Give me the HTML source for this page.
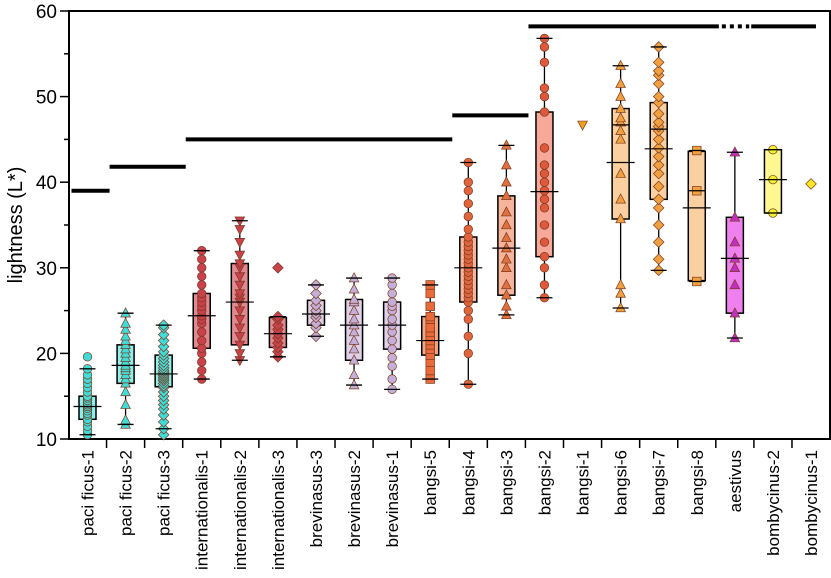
<!DOCTYPE html>
<html><head><meta charset="utf-8"><style>
body{margin:0;background:#fff;}
svg{display:block;font-family:"Liberation Sans",Arial,sans-serif;}
</style></head><body>
<svg id="chart" width="831" height="578"></svg>
<script>
const categories=["paci ficus-1","paci ficus-2","paci ficus-3","internationalis-1","internationalis-2","internationalis-3","brevinasus-3","brevinasus-2","brevinasus-1","bangsi-5","bangsi-4","bangsi-3","bangsi-2","bangsi-1","bangsi-6","bangsi-7","bangsi-8","aestivus","bombycinus-2","bombycinus-1"];
const whiskLo=[10.5,11.7,11.2,17,19.2,19.6,22,16.3,15.8,17,16.4,24.5,26.5,null,25.3,29.7,28.4,21.8,36.4,null];
const q1=[12.3,16.5,16.1,20.6,21,20.7,23.3,19.2,20.5,19.8,26,26.8,31.3,null,35.7,38,28.5,24.7,36.4,null];
const medians=[13.8,18.6,17.6,24.4,26,22.3,24.6,23.3,23.3,21.5,30,32.3,38.9,null,42.3,43.9,37,31.1,40.3,null];
const q3=[15,21,19.8,27,30.5,24.2,26.2,26.3,26,24.3,33.6,38.4,48.2,null,48.6,49.3,43.6,35.9,43.8,null];
const whiskHi=[18.2,24.7,23.3,32,35.5,24.3,28,28.8,28.8,28,42.3,44.3,56.8,null,53.6,55.8,43.7,43.5,43.8,null];
const means=[null,null,null,null,null,null,null,null,null,null,null,null,null,null,46.7,46.2,39,null,null,null];
const points=[
[10.5,11,11.5,12,12.3,12.8,13,13.3,13.6,13.8,14,14.2,14.5,14.8,15,15.5,16,16.5,17,17.5,18.2,19.6],
[11.7,12.2,14,15.5,16.5,17,17.5,18,18.3,18.6,19,19.5,20,20.5,21,21.5,22,22.8,23.5,24.7],
[10.5,11.2,12,12.8,13.5,14,14.5,15,15.5,16,16.2,16.5,16.8,17,17.2,17.4,17.6,17.8,18,18.3,18.6,19,19.4,19.8,20.2,20.8,21.5,22.2,23,23.3],
[17,18,19,20,20.6,21.5,22.5,23.5,24,24.4,25,25.5,26,26.5,27,28,29,30,31,32],
[19.2,20,21,22,23,24,25,26,26.5,27,28,29,30,30.5,31.5,33,34.5,35.5],
[19.6,20.2,20.7,21.2,21.8,22.3,22.8,23.3,24,24.3,30],
[22,23,23.5,24.2,24.6,25,25.6,26.2,27,28],
[16.3,17.5,19.2,20.5,21.5,22.5,23.3,24,25,26,26.3,27.5,28.8],
[15.8,17,18.5,19.5,20.5,21.5,22.5,23.3,24,25,25.5,26,27,28,28.8],
[17,18,19,19.8,20.5,21,21.5,22,22.5,23,24,24.3,25.5,27,28],
[16.4,20,22,24,25,26,26.5,27,27.5,28,28.5,29,29.5,30,30.5,31,31.5,32,32.5,33,33.6,34.5,36,37.5,39,40,42.3],
[24.5,25.5,26.8,28,30,31,32.3,33.5,35,36.5,38.4,40,42,44.3],
[26.5,28,30,31.3,33,35,37,38,39,40,41,42,44,48.2,50,51,54,55.8,56.8],
[46.7],
[25.3,27,28,35.7,38,41,45,46,47,47.5,48.6,50,51.5,53.6],
[29.7,31,33,35,37,38,39.5,41,42,43,44,45,46,46.5,47,48,49.3,50,51.5,52.5,53,54,55.8],
[28.4,39,43.7],
[21.8,24.7,28,30,31.1,33,35.9,43.5],
[36.4,40.3,43.8],
[39.8]];
const shapes=["circle","up","diamond","circle","down","diamond","diamond","up","circle","square","circle","up","circle","down","up","diamond","square","up","circle","diamond"];
const markColors=["#40dcd8","#40dcd8","#40dcd8","#c8414b","#c8414b","#c8414b","#c4afd8","#c4afd8","#c4afd8","#ea6a3c","#e0643c","#e0703e","#e0583c","#f0a020","#f0a040","#f0a040","#f0a040","#c030c0","#f4f030","#f8e820"];
const boxColors=["#8cf0ec","#8cf0ec","#8cf0ec","#e08a90","#e08a90","#e08a90","#ddd0e8","#ddd0e8","#ddd0e8","#f4a47e","#f6b49a","#f6b49a","#f8a898","#fbd0a0","#fbd0a0","#fbd0a0","#fbd0a0","#f080f0","#fff890","#fff890"];
const yTicks=[10,20,30,40,50,60];
const sigBars=[[0,1,39],[1,3,41.8],[3,10,45],[10,12,47.8],[12,17.0,58.2],[17.85,19.55,58.2]];

const svg=document.getElementById('chart');
const NS="http://www.w3.org/2000/svg";
const X0=69,X1=830,Y0=11,Y1=439;
function y(v){return Y1-(v-10)*(Y1-Y0)/50;}
function x(i){return 87.5+i*38.08;}
function mk(t,a,p){const e=document.createElementNS(NS,t);for(const k in a)e.setAttribute(k,a[k]);(p||svg).appendChild(e);return e;}

let fr=mk('rect',{x:X0,y:Y0,width:X1-X0,height:Y1-Y0,fill:'none',stroke:'#000','stroke-width':2});


for(let v=10;v<=60;v+=5){
  const len=(v%10===0)?9:5;
  mk('line',{x1:X0-len,x2:X0,y1:y(v),y2:y(v),stroke:'#000','stroke-width':1.5});
}
yTicks.forEach(v=>{
  const t=mk('text',{x:X0-12,y:y(v)+7,'text-anchor':'end','font-size':19});
  t.textContent=v;
  
  
});
const yt=mk('text',{x:0,y:0,transform:'translate(22,225) rotate(-90)','text-anchor':'middle','font-size':20});
yt.textContent='lightness (L*)';



for(let i=1;i<categories.length;i++){
  const bx=x(i)-19.04;
  mk('line',{x1:bx,x2:bx,y1:Y1,y2:Y1+9,stroke:'#000','stroke-width':1.5});
}
categories.forEach((c,i)=>{
  const t=mk('text',{x:0,y:0,transform:`translate(${x(i)+6},450) rotate(-90)`,'text-anchor':'end','font-size':17});
  t.textContent=c;
  
  
});

sigBars.forEach(b=>{
  const l=mk('line',{x1:x(b[0])-16,x2:x(b[1])-16,y1:y(b[2]),y2:y(b[2]),stroke:'#000','stroke-width':4});
  
  
});
const dl=mk('line',{x1:x(17.0)-13,x2:x(17.85)-18,y1:y(58.2),y2:y(58.2),stroke:'#000','stroke-width':4,'stroke-dasharray':'4 4'});



function marker(g,shape,cx,cy,col){
  const r=4.3;let e;
  const st={fill:col,stroke:'#7a3a20','stroke-width':0.7};
  if(shape==='circle') e=mk('circle',Object.assign({cx,cy,r},st),g);
  else if(shape==='square') e=mk('rect',Object.assign({x:cx-r,y:cy-r,width:2*r,height:2*r},st),g);
  else if(shape==='diamond') e=mk('polygon',Object.assign({points:`${cx},${cy-r-1} ${cx+r+1},${cy} ${cx},${cy+r+1} ${cx-r-1},${cy}`},st),g);
  else if(shape==='up') e=mk('polygon',Object.assign({points:`${cx},${cy-r-1} ${cx+r+0.5},${cy+r-0.5} ${cx-r-0.5},${cy+r-0.5}`},st),g);
  else e=mk('polygon',Object.assign({points:`${cx},${cy+r+1} ${cx+r+0.5},${cy-r+0.5} ${cx-r-0.5},${cy-r+0.5}`},st),g);
  
  
}

categories.forEach((c,i)=>{
  const g=mk('g',{});
  
  
  const cx=x(i);
  if(q1[i]!==null){
    mk('line',{x1:cx,x2:cx,y1:y(whiskLo[i]),y2:y(whiskHi[i]),stroke:'#000','stroke-width':1.3},g);
    mk('rect',{x:cx-8.5,y:y(q3[i]),width:17,height:y(q1[i])-y(q3[i]),fill:boxColors[i],stroke:'#000','stroke-width':1.5},g);
  }
  points[i].forEach(v=>marker(g,shapes[i],cx,y(v),markColors[i]));
  if(q1[i]!==null){
    mk('line',{x1:cx-8,x2:cx+8,y1:y(whiskLo[i]),y2:y(whiskLo[i]),stroke:'#000','stroke-width':1.3},g);
    mk('line',{x1:cx-8,x2:cx+8,y1:y(whiskHi[i]),y2:y(whiskHi[i]),stroke:'#000','stroke-width':1.3},g);
    mk('line',{x1:cx-14,x2:cx+14,y1:y(medians[i]),y2:y(medians[i]),stroke:'#000','stroke-width':1.2},g);
    if(means[i]!==null) mk('line',{x1:cx-8.5,x2:cx+8.5,y1:y(means[i]),y2:y(means[i]),stroke:'#000','stroke-width':1.3},g);
  }
});
</script>
</body></html>
